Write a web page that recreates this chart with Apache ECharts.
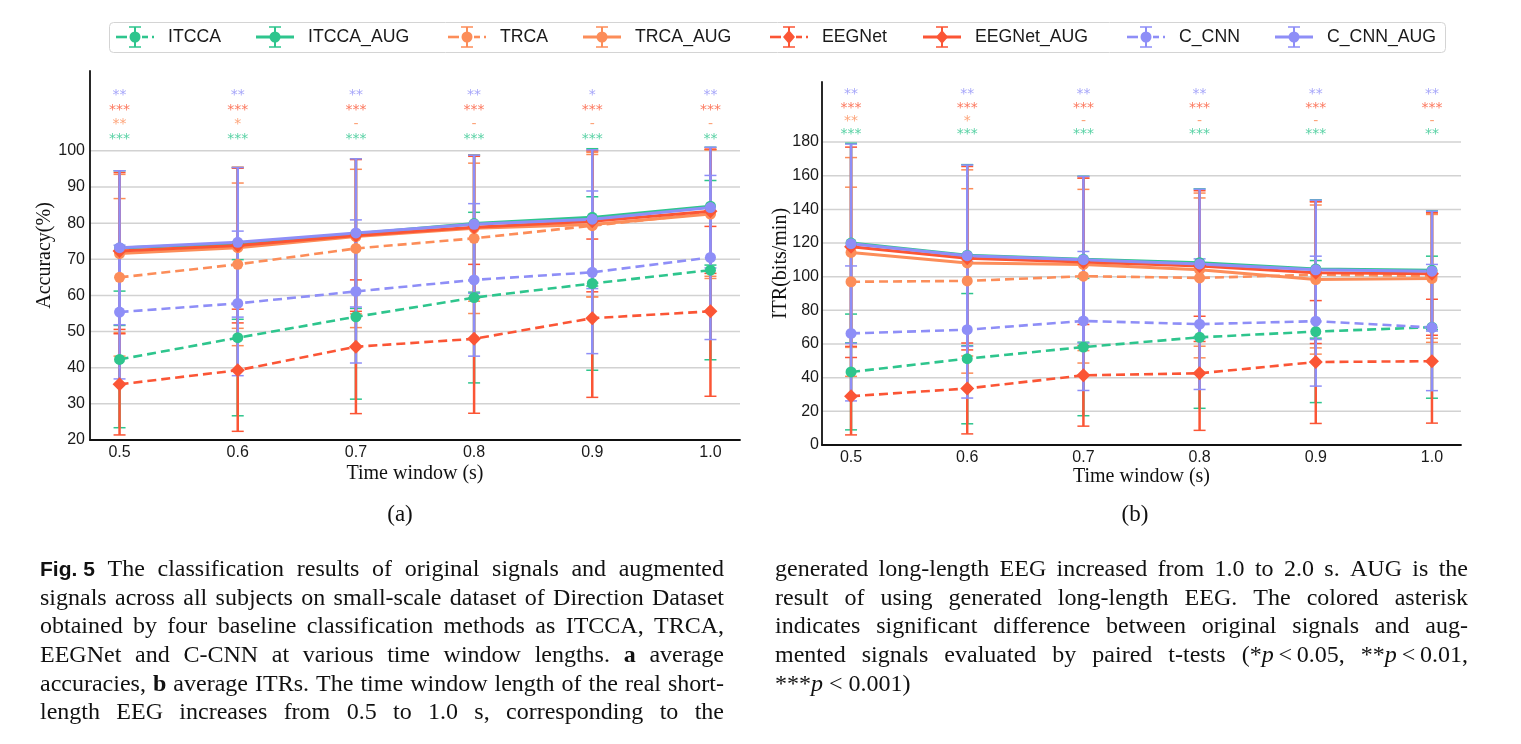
<!DOCTYPE html>
<html><head><meta charset="utf-8">
<script src="https://cdn.jsdelivr.net/npm/echarts@6/dist/echarts.min.js"></script>
<style>html,body{margin:0;padding:0;background:#fff}#c{width:1521px;height:744px}</style>
</head><body><div id="c"></div><script>
// ---------------- data ----------------
const timeWindows = [0.5, 0.6, 0.7, 0.8, 0.9, 1.0];
const methods = ['ITCCA', 'ITCCA_AUG', 'TRCA', 'TRCA_AUG', 'EEGNet', 'EEGNet_AUG', 'C_CNN', 'C_CNN_AUG'];

// (a) accuracy (%) mean and std
const accITCCA        = [42.3, 48.3, 54.1, 59.4, 63.3, 67.0];
const accITCCA_AUG    = [73.1, 74.4, 77.1, 79.9, 81.6, 84.7];
const accTRCA         = [65.0, 68.6, 73.0, 75.8, 79.3, 82.8];
const accTRCA_AUG     = [71.6, 73.2, 76.3, 78.6, 79.6, 82.5];
const accEEGNet       = [35.4, 39.3, 45.8, 48.0, 53.7, 55.6];
const accEEGNet_AUG   = [72.3, 73.8, 76.6, 78.9, 80.5, 83.3];
const accC_CNN        = [55.4, 57.8, 61.1, 64.3, 66.4, 70.5];
const accC_CNN_AUG    = [73.2, 74.7, 77.3, 79.7, 81.1, 84.3];

const accStdITCCA      = [18.9, 21.6, 22.8, 23.6, 24.0, 24.8];
const accStdITCCA_AUG  = [21.4, 21.0, 20.7, 19.0, 19.0, 16.3];
const accStdTRCA       = [21.8, 22.5, 21.9, 20.8, 19.7, 17.5];
const accStdTRCA_AUG   = [21.9, 22.3, 21.4, 20.2, 20.0, 17.8];
const accStdEEGNet     = [14.0, 16.9, 18.5, 20.6, 21.9, 23.5];
const accStdEEGNet_AUG = [21.7, 21.4, 21.0, 19.6, 19.5, 17.2];
const accStdC_CNN      = [18.5, 20.0, 19.8, 21.1, 22.5, 22.7];
const accStdC_CNN_AUG  = [21.3, 20.7, 20.5, 19.1, 19.2, 16.7];

// (b) ITR (bits/min) mean and std
const itrITCCA        = [43.4, 51.3, 58.2, 64.0, 67.4, 70.0];
const itrITCCA_AUG    = [120.0, 112.8, 110.4, 108.3, 104.6, 103.8];
const itrTRCA         = [97.0, 97.5, 100.3, 99.3, 101.2, 100.4];
const itrTRCA_AUG     = [114.4, 108.2, 107.3, 104.2, 98.3, 99.0];
const itrEEGNet       = [29.0, 33.6, 41.4, 42.6, 49.3, 49.8];
const itrEEGNet_AUG   = [117.8, 111.0, 108.8, 106.3, 102.4, 101.7];
const itrC_CNN        = [66.3, 68.5, 73.7, 71.8, 73.6, 69.8];
const itrC_CNN_AUG    = [119.6, 112.5, 110.1, 107.6, 104.1, 103.3];

const itrStdITCCA      = [34.4, 38.7, 40.8, 42.2, 42.2, 42.2];
const itrStdITCCA_AUG  = [59.3, 53.8, 49.3, 43.9, 41.1, 35.3];
const itrStdTRCA       = [56.2, 54.8, 51.6, 47.5, 43.5, 37.0];
const itrStdTRCA_AUG   = [56.4, 55.3, 51.2, 45.5, 44.3, 38.0];
const itrStdEEGNet     = [23.0, 27.0, 30.2, 33.9, 36.5, 36.8];
const itrStdEEGNet_AUG = [59.2, 54.5, 49.8, 44.8, 42.1, 36.5];
const itrStdC_CNN      = [40.1, 40.6, 41.3, 38.8, 38.6, 37.5];
const itrStdC_CNN_AUG  = [59.2, 53.9, 49.5, 44.4, 41.4, 35.6];

// significance marks (rows: C_CNN, EEGNet, TRCA, ITCCA)
const sigAccC_CNN  = ['**', '**', '**', '**', '*', '**'];
const sigAccEEGNet = ['***', '***', '***', '***', '***', '***'];
const sigAccTRCA   = ['**', '*', '-', '-', '-', '-'];
const sigAccITCCA  = ['***', '***', '***', '***', '***', '**'];
const sigItrC_CNN  = ['**', '**', '**', '**', '**', '**'];
const sigItrEEGNet = ['***', '***', '***', '***', '***', '***'];
const sigItrTRCA   = ['**', '*', '-', '-', '-', '-'];
const sigItrITCCA  = ['***', '***', '***', '***', '***', '**'];

// tick values
const accTicks = [20, 30, 40, 50, 60, 70, 80, 90, 100];
const itrTicks = [0, 20, 40, 60, 80, 100, 120, 140, 160, 180];

// caption text
const captionLeft = [
  '§Fig.\u00a05§ The classification results of original signals and augmented',
  'signals across all subjects on small-scale dataset of Direction Dataset',
  'obtained by four baseline classification methods as ITCCA, TRCA,',
  'EEGNet and C-CNN at various time window lengths. ¤a¤ average',
  'accuracies, ¤b¤ average ITRs. The time window length of the real short-',
  'length EEG increases from 0.5 to 1.0 s, corresponding to the'
];
const captionRight = [
  'generated long-length EEG increased from 1.0 to 2.0 s. AUG is the',
  'result of using generated long-length EEG. The colored asterisk',
  'indicates significant difference between original signals and aug-',
  'mented signals evaluated by paired t-tests (*¦p¦\u2009<\u20090.05, **¦p¦\u2009<\u20090.01,',
  '***¦p¦\u00a0<\u00a00.001)'
];

// ---------------- styling ----------------
const COLORS = ['#2ec58d', '#2ec58d', '#fc8d59', '#fc8d59', '#fb5535', '#fb5535', '#8e8ef7', '#8e8ef7'];
const DASHED = [true, false, true, false, true, false, true, false];
const SYMBOLS = ['circle', 'circle', 'circle', 'circle', 'diamond', 'diamond', 'circle', 'circle'];
const SIG_COLORS = ['#8e8ef7', '#fb5535', '#fc8d59', '#2ec58d'];

const accMeans = [accITCCA, accITCCA_AUG, accTRCA, accTRCA_AUG, accEEGNet, accEEGNet_AUG, accC_CNN, accC_CNN_AUG];
const accStds = [accStdITCCA, accStdITCCA_AUG, accStdTRCA, accStdTRCA_AUG, accStdEEGNet, accStdEEGNet_AUG, accStdC_CNN, accStdC_CNN_AUG];
const itrMeans = [itrITCCA, itrITCCA_AUG, itrTRCA, itrTRCA_AUG, itrEEGNet, itrEEGNet_AUG, itrC_CNN, itrC_CNN_AUG];
const itrStds = [itrStdITCCA, itrStdITCCA_AUG, itrStdTRCA, itrStdTRCA_AUG, itrStdEEGNet, itrStdEEGNet_AUG, itrStdC_CNN, itrStdC_CNN_AUG];
const accSig = [sigAccC_CNN, sigAccEEGNet, sigAccTRCA, sigAccITCCA];
const itrSig = [sigItrC_CNN, sigItrEEGNet, sigItrTRCA, sigItrITCCA];
const accSigRows = [116.4, 112.3, 108.4, 104.4];
const itrSigRows = [210.7, 202.7, 194.5, 186.8];

const SANS = '"Liberation Sans", Arial, sans-serif';
const SERIF = '"Liberation Serif", "Times New Roman", serif';

function errRender(color) {
  return function (params, api) {
    const x = api.value(0), m = api.value(1), s = api.value(2);
    const top = api.coord([x, m + s]);
    const bot = api.coord([x, m - s]);
    const hw = 6;
    return {
      type: 'group',
      children: [
        { type: 'line', shape: { x1: top[0], y1: top[1], x2: bot[0], y2: bot[1] }, style: { stroke: color, lineWidth: 2.5 } },
        { type: 'line', shape: { x1: top[0] - hw, y1: top[1], x2: top[0] + hw, y2: top[1] }, style: { stroke: color, lineWidth: 1.5 } },
        { type: 'line', shape: { x1: bot[0] - hw, y1: bot[1], x2: bot[0] + hw, y2: bot[1] }, style: { stroke: color, lineWidth: 1.5 } }
      ]
    };
  };
}
function gridRender(params, api) {
  const cs = params.coordSys;
  const y = api.coord([0.75, api.value(0)])[1];
  return { type: 'line', shape: { x1: cs.x, y1: y, x2: cs.x + cs.width, y2: y }, style: { stroke: '#d2d2d2', lineWidth: 1.5 } };
}

const series = [];
function addPanel(p, means, stds, ticks, sig, sigRows) {
  series.push({ type: 'custom', xAxisIndex: p, yAxisIndex: p, z: 0, silent: true, renderItem: gridRender,
    data: ticks.map(v => [v]), encode: { y: 0 } });
  methods.forEach((name, i) => {
    series.push({
      type: 'custom', name: name, xAxisIndex: p, yAxisIndex: p, silent: true,
      renderItem: errRender(COLORS[i]),
      data: timeWindows.map((t, k) => [t, means[i][k], stds[i][k]]),
      encode: { x: 0, y: 1 }
    });
    series.push({
      type: 'line', name: name, xAxisIndex: p, yAxisIndex: p, silent: true,
      data: timeWindows.map((t, k) => [t, means[i][k]]),
      symbol: SYMBOLS[i], symbolSize: SYMBOLS[i] === 'diamond' ? 14 : 11,
      itemStyle: { color: COLORS[i] },
      lineStyle: { color: COLORS[i], width: DASHED[i] ? 2.6 : 3, type: DASHED[i] ? [9, 5] : 'solid' },
      emphasis: { disabled: true }
    });
  });
  sig.forEach((row, r) => {
    series.push({
      type: 'scatter', xAxisIndex: p, yAxisIndex: p, silent: true, symbolSize: 1,
      itemStyle: { color: 'rgba(0,0,0,0)' },
      data: timeWindows.map((t, k) => [t, sigRows[r], row[k]]),
      label: { show: true, position: 'inside', offset: [0, 4], formatter: d => d.value[2],
        color: SIG_COLORS[r], fontSize: 14, fontFamily: '"DejaVu Sans", sans-serif' }
    });
  });
}
addPanel(0, accMeans, accStds, accTicks, accSig, accSigRows);
addPanel(1, itrMeans, itrStds, itrTicks, itrSig, itrSigRows);

function xAxis(idx) {
  return {
    type: 'value', gridIndex: idx, min: 0.475, max: 1.025, interval: 0.025,
    axisLine: { show: true, lineStyle: { color: '#111', width: 1.8 } },
    axisTick: { show: false }, splitLine: { show: false },
    axisLabel: { margin: 5, fontSize: 16, fontFamily: SANS, color: '#1a1a1a',
      formatter: v => Math.abs(v * 10 - Math.round(v * 10)) < 1e-6 ? v.toFixed(1) : '' },
    name: 'Time window (s)', nameLocation: 'middle', nameGap: idx === 0 ? 24 : 22, nameMoveOverlap: false,
    nameTextStyle: { fontSize: 20, fontFamily: SERIF, color: '#111' }
  };
}
function yAxis(idx, min, max, interval, top, name, gap, margin) {
  return {
    type: 'value', gridIndex: idx, min: min, max: max, interval: interval,
    axisLine: { show: true, lineStyle: { color: '#111', width: 1.8 } },
    axisTick: { show: false }, splitLine: { show: false },
    axisLabel: { margin: margin, fontSize: 16, fontFamily: SANS, color: '#1a1a1a', formatter: v => v <= top ? String(v) : '' },
    name: name, nameLocation: 'middle', nameGap: gap, nameMoveOverlap: false,
    nameTextStyle: { fontSize: 20, fontFamily: SERIF, color: '#111' }
  };
}

// ---------------- legend (graphic) ----------------
const graphics = [];
const legendX = [116, 256, 448, 583, 770, 923, 1127, 1275];
const legY = 37;
graphics.push({ type: 'rect', shape: { x: 109.5, y: 22.5, width: 1336, height: 30, r: 4 }, style: { fill: '#fff', stroke: '#d4d4d4', lineWidth: 1 }, silent: true });
methods.forEach((name, i) => {
  const x0 = legendX[i], c = COLORS[i], cx = x0 + 19;
  if (DASHED[i]) {
    [[0, 11], [26, 32], [36, 38]].forEach(s => graphics.push({ type: 'line', silent: true, shape: { x1: x0 + s[0], y1: legY, x2: x0 + s[1], y2: legY }, style: { stroke: c, lineWidth: 2.6 } }));
  } else {
    graphics.push({ type: 'line', silent: true, shape: { x1: x0, y1: legY, x2: x0 + 38, y2: legY }, style: { stroke: c, lineWidth: 3 } });
  }
  graphics.push({ type: 'line', silent: true, shape: { x1: cx, y1: legY - 10, x2: cx, y2: legY + 10 }, style: { stroke: c, lineWidth: 2 } });
  graphics.push({ type: 'line', silent: true, shape: { x1: cx - 6, y1: legY - 10, x2: cx + 6, y2: legY - 10 }, style: { stroke: c, lineWidth: 1.5 } });
  graphics.push({ type: 'line', silent: true, shape: { x1: cx - 6, y1: legY + 10, x2: cx + 6, y2: legY + 10 }, style: { stroke: c, lineWidth: 1.5 } });
  if (SYMBOLS[i] === 'diamond') {
    graphics.push({ type: 'polygon', silent: true, shape: { points: [[cx, legY - 7], [cx + 6, legY], [cx, legY + 7], [cx - 6, legY]] }, style: { fill: c } });
  } else {
    graphics.push({ type: 'circle', silent: true, shape: { cx: cx, cy: legY, r: 5.5 }, style: { fill: c } });
  }
  graphics.push({ type: 'text', silent: true, x: x0 + 52, y: legY, style: { text: name, fontSize: 17.7, fontFamily: SANS, fill: '#1a1a1a', verticalAlign: 'middle' } });
});

// panel labels
graphics.push({ type: 'text', silent: true, x: 400, y: 515, style: { text: '(a)', fontSize: 23, fontFamily: SERIF, fill: '#111', align: 'center', verticalAlign: 'middle' } });
graphics.push({ type: 'text', silent: true, x: 1135, y: 515, style: { text: '(b)', fontSize: 23, fontFamily: SERIF, fill: '#111', align: 'center', verticalAlign: 'middle' } });

// ---------------- caption (justified) ----------------
const CAP = {
  n: { fontSize: 24, fontFamily: SERIF, fontWeight: 'normal', fontStyle: 'normal' },
  b: { fontSize: 21, fontFamily: SANS, fontWeight: 'bold', fontStyle: 'normal' },
  B: { fontSize: 24, fontFamily: SERIF, fontWeight: 'bold', fontStyle: 'normal' },
  i: { fontSize: 24, fontFamily: SERIF, fontWeight: 'normal', fontStyle: 'italic' }
};
const mctx = document.createElement('canvas').getContext('2d');
function fontStr(s) { return s.fontStyle + ' ' + s.fontWeight + ' ' + s.fontSize + 'px ' + s.fontFamily; }
function layoutLine(str, x0, x1, y, justify) {
  let style = 'n';
  const words = str.split(' ').map(w => {
    const segs = []; let cur = '';
    for (const ch of w) {
      if (ch === '§' || ch === '¤' || ch === '¦') {
        if (cur) { segs.push({ t: cur, s: style }); cur = ''; }
        const target = ch === '§' ? 'b' : ch === '¤' ? 'B' : 'i';
        style = style === target ? 'n' : target;
      } else cur += ch;
    }
    if (cur) segs.push({ t: cur, s: style });
    segs.forEach(sg => { mctx.font = fontStr(CAP[sg.s]); sg.w = mctx.measureText(sg.t).width; });
    return { segs: segs, w: segs.reduce((a, b) => a + b.w, 0) };
  });
  mctx.font = fontStr(CAP.n);
  const spaceW = mctx.measureText(' ').width;
  const total = words.reduce((a, b) => a + b.w, 0);
  let gap = justify && words.length > 1 ? (x1 - x0 - total) / (words.length - 1) : spaceW;
  gap = Math.max(gap, spaceW * 0.5);
  let x = x0;
  words.forEach(w => {
    let sx = x;
    w.segs.forEach(sg => {
      const st = CAP[sg.s];
      graphics.push({ type: 'text', silent: true, x: sx, y: y, style: { text: sg.t, fontSize: st.fontSize, fontFamily: st.fontFamily,
        fontWeight: st.fontWeight, fontStyle: st.fontStyle, fill: '#111', verticalAlign: 'middle' } });
      sx += sg.w;
    });
    x += w.w + gap;
  });
}
const capY0 = 570, capDy = 28.6;
captionLeft.forEach((l, k) => layoutLine(l, 40, 724, capY0 + k * capDy, true));
captionRight.forEach((l, k) => layoutLine(l, 775, 1468, capY0 + k * capDy, k < captionRight.length - 1));

// ---------------- chart ----------------
const chart = echarts.init(document.getElementById('c'), null, { renderer: 'canvas' });
chart.setOption({
  animation: false,
  backgroundColor: '#fff',
  grid: [
    { left: 90, top: 71, width: 650, height: 369, containLabel: false, outerBoundsMode: 'none' },
    { left: 822, top: 82, width: 639, height: 363, containLabel: false, outerBoundsMode: 'none' }
  ],
  xAxis: [xAxis(0), xAxis(1)],
  yAxis: [
    yAxis(0, 20, 122.1, 10, 100, 'Accuracy(%)', 35, 5),
    yAxis(1, 0, 215.7, 20, 180, 'ITR(bits/min)', 31, 3)
  ],
  series: series,
  graphic: graphics
});
</script></body></html>
